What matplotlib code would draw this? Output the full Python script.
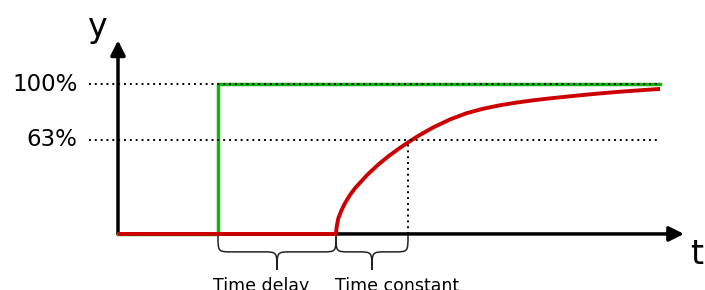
import numpy as np
import matplotlib.pyplot as plt
from matplotlib.path import Path
from matplotlib.patches import PathPatch

# step input (green) and delayed response (red), y in %
step_t = [0.0, 1.0, 1.0, 5.42]
step_y = [0, 0, 100, 100]
resp_t = [0.0, 2.18, 2.187, 2.203, 2.237, 2.27, 2.32, 2.37, 2.437, 2.503, 2.603, 2.703,
          2.803, 2.897, 3.003, 3.153, 3.32, 3.487, 3.653, 3.82, 3.987, 4.153, 4.32,
          4.553, 4.72, 4.887, 5.053, 5.22, 5.42]
resp_y = [0, 0, 4.9, 10.5, 16.1, 20.6, 26.1, 30.6, 35.5, 40.2, 46.4, 51.9,
          56.8, 61.1, 65.6, 71.3, 76.6, 80.8, 83.8, 86.1, 87.9, 89.4, 90.7,
          92.3, 93.4, 94.4, 95.3, 96.1, 97.0]
levels = [100, 63]
level_labels = ["100%", "63%"]
t_delay = 1.0
t_start = 2.18
t_tau = 2.90

plt.rcParams['font.family'] = ['DejaVu Sans']
fig = plt.figure(figsize=(7.05, 2.9), dpi=100)
ax = fig.add_axes([0, 0, 1, 1])
ax.set_xlim(-1.18, 5.87)
ax.set_ylim(-37.5, 156.5)
ax.axis('off')

# axes with arrows
ax.annotate('', xy=(0, 129.5), xytext=(0, 0),
            arrowprops=dict(arrowstyle='-|>', lw=2.5, color='black',
                            mutation_scale=22, shrinkA=0, shrinkB=0))
ax.annotate('', xy=(5.66, 0), xytext=(0, 0),
            arrowprops=dict(arrowstyle='-|>', lw=2.5, color='black',
                            mutation_scale=22, shrinkA=0, shrinkB=0))
ax.text(-0.21, 138, "y", fontsize=24, ha='center', va='center')
ax.text(5.79, -14, "t", fontsize=24, ha='center', va='center')

ax.plot(step_t, step_y, color='#11b511', lw=2.5, zorder=3)
ax.plot(resp_t, resp_y, color='#cc0000', lw=2.8, zorder=4,
        solid_capstyle='butt', solid_joinstyle='round')

dots = (0, (1, 2.0))
for lv, lab in zip(levels, level_labels):
    ax.plot([-0.29, 5.42], [lv, lv], color='black', lw=1.4, ls=dots, zorder=5)
    ax.text(-0.405, lv, lab, fontsize=16.5, ha='right', va='center')
ax.plot([t_tau, t_tau], [0, 62], color='black', lw=1.4, ls=dots, zorder=5)


def brace(x0, x1, y0, y1, y2):
    m = (x0 + x1) / 2
    r = 0.14
    verts = [(x0, y0), (x0, y1), (x0, y1), (x0 + r, y1),
             (m - r, y1), (m, y1), (m, y1), (m, y2),
             (m, y1), (m, y1), (m + r, y1),
             (x1 - r, y1), (x1, y1), (x1, y1), (x1, y0)]
    codes = [Path.MOVETO, Path.CURVE4, Path.CURVE4, Path.CURVE4,
             Path.LINETO, Path.CURVE4, Path.CURVE4, Path.CURVE4,
             Path.CURVE4, Path.CURVE4, Path.CURVE4,
             Path.LINETO, Path.CURVE4, Path.CURVE4, Path.CURVE4]
    ax.add_patch(PathPatch(Path(verts, codes), fill=False, lw=1.1, ec='#222222'))


brace(t_delay, t_start, -1, -12, -24)
brace(t_start, t_tau, -1, -12, -24)

ax.text(0.95, -28.5, "Time delay", fontsize=12.5, ha='left', va='top')
ax.text(2.17, -28.5, "Time constant", fontsize=12.5, ha='left', va='top')

fig.savefig("out.png", dpi=100)
